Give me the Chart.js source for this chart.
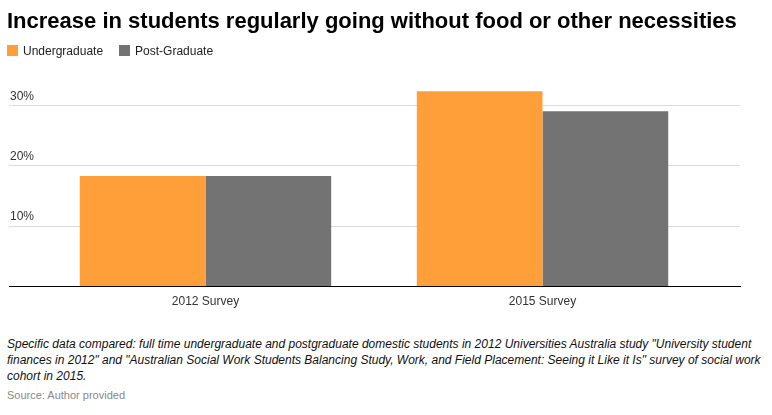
<!DOCTYPE html>
<html>
<head>
<meta charset="utf-8">
<script src="https://cdn.jsdelivr.net/npm/chart.js@4"></script>
<style>
  html, body { margin: 0; padding: 0; background: #fff; }
  body { position: relative; width: 772px; height: 415px; overflow: hidden; font-family: "Liberation Sans", Arial, sans-serif; }
  #wrap { position: absolute; left: 0; top: 0; width: 772px; height: 316px; }
  h1 { position: absolute; left: 7px; top: 8px; margin: 0; font-size: 22px; line-height: 26px; font-weight: bold; color: #000; white-space: nowrap; }
  .legend { position: absolute; left: 7px; top: 44px; font-size: 12px; line-height: 14px; color: #222; white-space: nowrap; }
  .legend span { display: inline-block; margin-right: 16px; }
  .legend i { display: inline-block; width: 11px; height: 11px; margin-right: 5px; vertical-align: -1px; }
  .note { position: absolute; left: 7px; top: 336px; width: 765px; font-size: 12px; line-height: 16px; font-style: italic; color: #111; white-space: nowrap; }
  .source { position: absolute; left: 7px; top: 388px; font-size: 11px; line-height: 14px; color: #8a8a8a; }
</style>
</head>
<body>
<div id="wrap"><canvas id="chart"></canvas></div>
<h1>Increase in students regularly going without food or other necessities</h1>
<div class="legend" id="legend"></div>
<div class="note">Specific data compared: full time undergraduate and postgraduate domestic students in 2012 Universities Australia study "University student<br>finances in 2012" and "Australian Social Work Students Balancing Study, Work, and Field Placement: Seeing it Like it Is" survey of social work<br>cohort in 2015.</div>
<div class="source">Source: Author provided</div>
<script>
// ---- data ----
const categories = ['2012 Survey', '2015 Survey'];
const seriesNames = ['Undergraduate', 'Post-Graduate'];
const undergrad = [18.3, 32.3];
const postgrad = [18.3, 29.0];
const yTicks = [10, 20, 30];

const COLORS = ['#ff9f3a', '#737373'];

function points(values) {
  return values.map((v, i) => ({ x: i + 1, y: v }));
}

const chart = new Chart(document.getElementById('chart'), {
  type: 'bar',
  data: {
    datasets: [
      { label: seriesNames[0], data: points(undergrad), backgroundColor: COLORS[0], borderWidth: 0 },
      { label: seriesNames[1], data: points(postgrad), backgroundColor: COLORS[1], borderWidth: 0 },
    ]
  },
  options: {
    responsive: true,
    maintainAspectRatio: false,
    animation: false,
    devicePixelRatio: 1,
    layout: { padding: { left: 7, right: 32, top: 75, bottom: 7 } },
    categoryPercentage: 0.746,
    barPercentage: 1,
    plugins: {
      legend: { display: false },
      tooltip: { enabled: false },
    },
    scales: {
      x: {
        type: 'linear',
        offset: false,
        min: 0.417,
        max: 2.586,
        grid: { display: false },
        border: { display: true, color: '#000', width: 1 },
        ticks: {
          stepSize: 1,
          includeBounds: false,
          padding: 0,
          color: '#333',
          font: { family: '"Liberation Sans", Arial', size: 12 },
          callback: v => categories[v - 1] || '',
        },
      },
      y: {
        min: 0,
        max: 35,
        grid: {
          drawTicks: false,
          color: ctx => (ctx.tick && ctx.tick.value === 0) ? 'rgba(0,0,0,0)' : '#dcdcdc',
        },
        border: { display: false },
        ticks: {
          stepSize: 10,
          includeBounds: false,
          mirror: true,
          padding: 1,
          labelOffset: -9,
          color: '#333',
          font: { family: '"Liberation Sans", Arial', size: 12 },
          callback: v => yTicks.includes(v) ? v + '%' : '',
        },
      },
    },
  },
});

// html legend built from the datasets
document.getElementById('legend').innerHTML = chart.data.datasets
  .map(ds => `<span><i style="background:${ds.backgroundColor}"></i>${ds.label}</span>`)
  .join('');
</script>
</body>
</html>
